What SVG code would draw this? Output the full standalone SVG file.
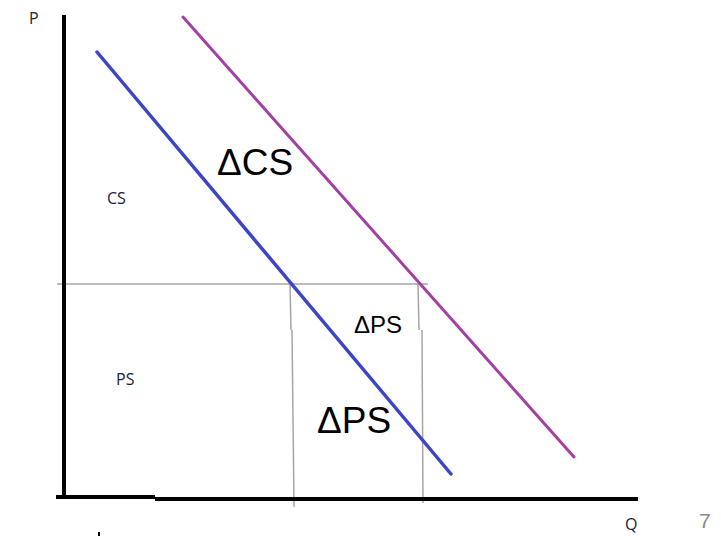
<svg xmlns="http://www.w3.org/2000/svg" width="721" height="536" viewBox="0 0 721 536">
<style>
.axis{stroke:#000;stroke-width:4;fill:none}
.grid{stroke:#a6a6a6;stroke-width:1.5;fill:none}
.small{font-family:"Open Sans","Liberation Sans",sans-serif;font-size:16px;fill:#1c2336}
.big{font-family:"Liberation Sans",Arial,sans-serif;fill:#000}
</style>
<rect width="721" height="536" fill="#fff"/>
<g id="connectors">
<line class="grid" x1="57" y1="284" x2="428" y2="284"/>
<line class="grid" x1="290" y1="284" x2="291" y2="330"/>
<line class="grid" x1="292" y1="330" x2="294" y2="507"/>
<line class="grid" x1="418" y1="284" x2="419" y2="330"/>
<line class="grid" x1="422" y1="330" x2="423" y2="503"/>
<line class="axis" x1="64" y1="15" x2="64" y2="498"/>
<line class="axis" x1="56" y1="497" x2="155" y2="497"/>
<line class="axis" x1="155" y1="499" x2="638" y2="499"/>
<line x1="97" y1="52" x2="451" y2="474" stroke="#3c45c8" stroke-width="3.5" stroke-linecap="round"/>
<line x1="183" y1="17" x2="574" y2="457" stroke="#a43fa4" stroke-width="3" stroke-linecap="round"/>
</g>
<g id="labels">
<text class="small" x="29" y="24">P</text>
<text class="small" x="107" y="204">CS</text>
<text class="small" x="116" y="385">PS</text>
<text class="big" x="217" y="175" font-size="37">ΔCS</text>
<text class="big" x="354" y="333" font-size="24">ΔPS</text>
<text class="big" x="317" y="433" font-size="37">ΔPS</text>
<text class="small" x="625" y="530">Q</text>
<text x="699" y="528" font-family="Liberation Sans,Arial,sans-serif" font-size="21" fill="#8a8a8a">7</text>
<rect x="98" y="532" width="2" height="4" fill="#000"/>
</g>
</svg>
